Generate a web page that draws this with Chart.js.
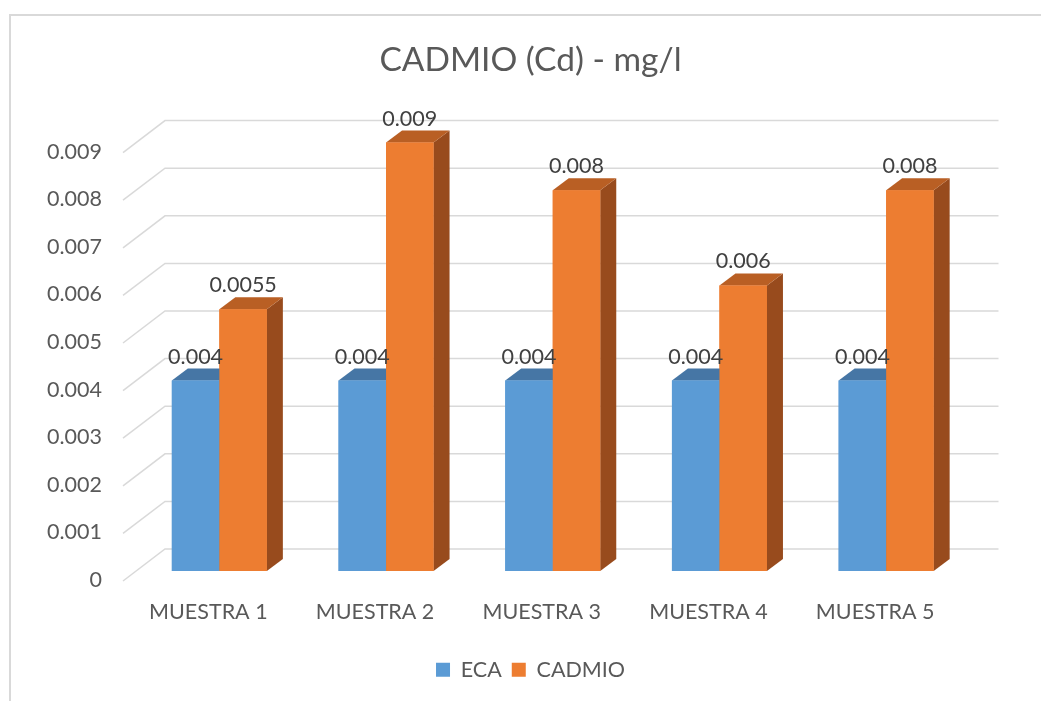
<!DOCTYPE html>
<html>
<head>
<meta charset="utf-8">
<title>CADMIO (Cd) - mg/l</title>
<script src="https://cdn.jsdelivr.net/npm/chart.js@4.4.0/dist/chart.umd.min.js"></script>
<style>
  html, body { margin: 0; padding: 0; background: #ffffff; }
  canvas { display: block; }
</style>
</head>
<body>
<canvas id="chart" width="1041" height="701"></canvas>
<script>
// Data
const categories = ['MUESTRA 1', 'MUESTRA 2', 'MUESTRA 3', 'MUESTRA 4', 'MUESTRA 5'];
const seriesNames = ['ECA', 'CADMIO'];
const ecaValues = [0.004, 0.004, 0.004, 0.004, 0.004];
const cadmioValues = [0.0055, 0.009, 0.008, 0.006, 0.008];
const yTickLabels = ['0', '0.001', '0.002', '0.003', '0.004', '0.005', '0.006', '0.007', '0.008', '0.009'];

// Styling
const FONT = 'Lato, "Open Sans", sans-serif';
const TEXT_GREY = '#595959';
const LABEL_GREY = '#404040';
const GRID_GREY = '#D9D9D9';
const frontColors = ['#5B9BD5', '#ED7D31'];
const faceColors = [
  { top: '#4676A5', side: '#41709C' },
  { top: '#B95F24', side: '#984B1D' }
];

// Oblique projection offsets for the 3-D look
const WALL_FRONT = { dx: -13, dy: 10 };   // front edge of the side wall
const WALL_BACK = { dx: 29, dy: -22 };    // back wall plane
const BAR_DEPTH = { dx: 16, dy: -12 };    // depth of each column

function poly(ctx, pts, color) {
  ctx.beginPath();
  ctx.moveTo(pts[0][0], pts[0][1]);
  for (let i = 1; i < pts.length; i++) ctx.lineTo(pts[i][0], pts[i][1]);
  ctx.closePath();
  ctx.fillStyle = color;
  ctx.fill();
}

const columns3d = {
  id: 'columns3d',
  beforeDraw(chart) {
    const { ctx, width, height } = chart;
    ctx.save();
    ctx.fillStyle = '#ffffff';
    ctx.fillRect(0, 0, width, height);
    // chart frame
    ctx.strokeStyle = GRID_GREY;
    ctx.lineWidth = 2;
    ctx.strokeRect(10, 15, width + 20, height + 20);
    ctx.restore();
  },
  beforeDatasetsDraw(chart) {
    const { ctx, chartArea } = chart;
    const y = chart.scales.y;
    ctx.save();
    ctx.strokeStyle = GRID_GREY;
    ctx.lineWidth = 1.5;
    y.ticks.forEach(t => {
      const py = y.getPixelForValue(t.value);
      ctx.beginPath();
      // side wall
      ctx.moveTo(chartArea.left + WALL_FRONT.dx, py + WALL_FRONT.dy);
      ctx.lineTo(chartArea.left + WALL_BACK.dx, py + WALL_BACK.dy);
      // back wall
      ctx.lineTo(chartArea.right + WALL_BACK.dx, py + WALL_BACK.dy);
      ctx.stroke();
    });
    ctx.restore();
  },
  afterDatasetsDraw(chart) {
    const { ctx } = chart;
    ctx.save();
    // columns painted left to right: side face, top face, then the front face
    chart.data.datasets.forEach((ds, di) => {
      const colors = faceColors[di];
      chart.getDatasetMeta(di).data.forEach(bar => {
        const left = bar.x - bar.width / 2;
        const right = bar.x + bar.width / 2;
        const top = bar.y;
        const base = bar.base;
        const { dx, dy } = BAR_DEPTH;
        poly(ctx, [[right, top], [right + dx, top + dy], [right + dx, base + dy], [right, base]], colors.side);
        poly(ctx, [[left, top], [left + dx, top + dy], [right + dx, top + dy], [right, top]], colors.top);
        bar.draw(ctx);
      });
    });
    // value labels
    ctx.font = '21.5px ' + FONT;
    ctx.fillStyle = LABEL_GREY;
    ctx.textAlign = 'center';
    ctx.textBaseline = 'middle';
    chart.data.datasets.forEach((ds, di) => {
      chart.getDatasetMeta(di).data.forEach((bar, i) => {
        ctx.fillText(String(ds.data[i]), bar.x, bar.y - 24);
      });
    });
    ctx.restore();
  }
};

new Chart(document.getElementById('chart'), {
  type: 'bar',
  data: {
    labels: categories,
    datasets: [
      { label: seriesNames[0], data: ecaValues, backgroundColor: frontColors[0], borderWidth: 0, clip: false },
      { label: seriesNames[1], data: cadmioValues, backgroundColor: frontColors[1], borderWidth: 0, clip: false }
    ]
  },
  options: {
    responsive: false,
    devicePixelRatio: 1,
    animation: false,
    events: [],
    categoryPercentage: 0.57,
    barPercentage: 1.0,
    layout: { padding: { left: 20, right: 0, top: 0, bottom: 10.5 } },
    plugins: {
      title: {
        display: true,
        text: 'CADMIO (Cd) - mg/l',
        color: TEXT_GREY,
        font: { family: FONT, size: 33.5, weight: 'normal' },
        padding: { top: 40, bottom: 62.4 }
      },
      legend: {
        display: true,
        position: 'bottom',
        labels: {
          boxWidth: 14,
          boxHeight: 14,
          padding: 10,
          color: TEXT_GREY,
          font: { family: FONT, size: 21.5 }
        }
      },
      tooltip: { enabled: false }
    },
    scales: {
      x: {
        grid: { display: false, drawTicks: false },
        border: { display: false },
        ticks: {
          color: TEXT_GREY,
          font: { family: FONT, size: 21.5 },
          padding: 28,
          labelOffset: -11,
          maxRotation: 0
        },
        afterFit(s) { s.height = 78; }
      },
      y: {
        position: 'left',
        min: 0,
        max: 0.009,
        grid: { display: false, drawTicks: false },
        border: { display: false },
        ticks: {
          stepSize: 0.001,
          color: TEXT_GREY,
          font: { family: FONT, size: 21.5 },
          padding: 34,
          labelOffset: 9,
          callback: (v, i) => yTickLabels[i]
        },
        afterFit(s) { s.width = 116; }
      },
      yRight: {
        position: 'right',
        display: true,
        grid: { display: false, drawTicks: false },
        border: { display: false },
        ticks: { display: false },
        afterFit(s) { s.width = 71.5; }
      }
    }
  },
  plugins: [columns3d]
});
</script>
</body>
</html>
